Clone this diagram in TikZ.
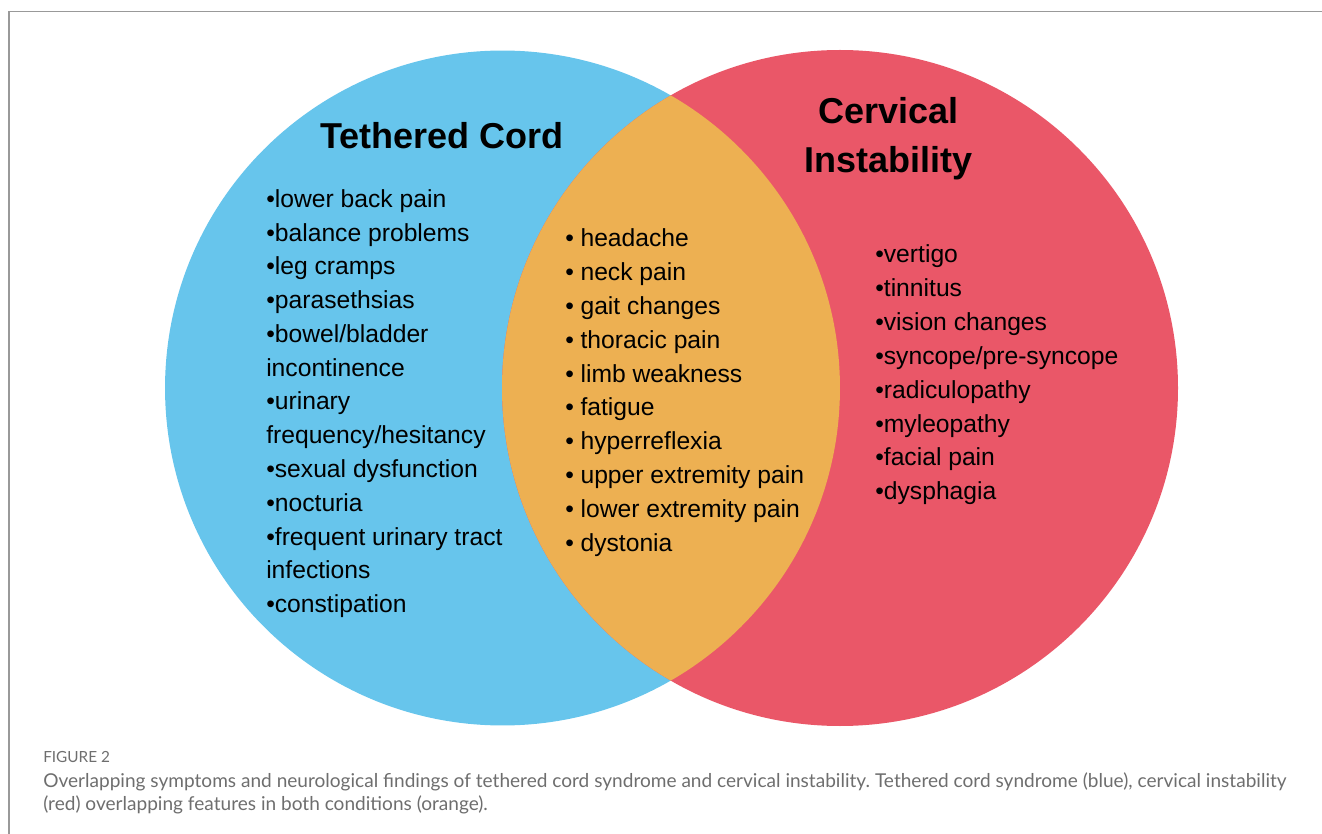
\documentclass[tikz,border=0pt]{standalone}
\usepackage{fontspec}
\setmainfont{Liberation Sans}
\newfontfamily\capfont{Lato}
\usetikzlibrary{positioning}
\definecolor{tcblue}{HTML}{67C5EC}
\definecolor{cired}{HTML}{EA5768}
\definecolor{bothorange}{HTML}{EDB052}
\definecolor{capgray}{HTML}{6E6E6E}
\tikzset{
  head/.style={font=\fontsize{27}{36}\selectfont\bfseries, inner sep=0pt, anchor=base},
  item/.style={font=\fontsize{18.5}{25}\selectfont, inner sep=0pt, anchor=base west},
  captext/.style={font=\capfont\fontsize{14.3}{17}\selectfont, text=capgray, inner sep=0pt, anchor=base west}
}
\frenchspacing

\begin{document}
\begin{tikzpicture}[x=0.75pt,y=-0.75pt]
\useasboundingbox (0,0) rectangle (1322,834);
% frame
\draw[black!40, line width=1pt] (9,834) -- (9,11.5) -- (1322,11.5);
% circles
\fill[tcblue] (502.5,388) circle (253.1pt);
\fill[cired] (840,388) circle (253.5pt);
\begin{scope}
  \clip (502.5,388) circle (253.1pt);
  \fill[bothorange] (840,388) circle (253.5pt);
\end{scope}
% titles
\node[head] (tcTitle) at (441.7,149) {Tethered Cord};
\node[head] (ciTitleA) at (888.5,124) {Cervical};
\node[head] (ciTitleB) at (888.5,173) {Instability};
% tethered cord only
\foreach \txt [count=\i from 0] in {•lower back pain, •balance problems, •leg cramps,
    •parasethsias, •bowel/bladder, incontinence, •urinary, frequency/hesitancy,
    •sexual dysfunction, •nocturia, •frequent urinary tract, infections, •constipation}
  \node[item] (tc\i) at (266,207.5+33.75*\i) {\txt};
% both
\foreach \txt [count=\i from 0] in {headache, neck pain, gait changes, thoracic pain,
    limb weakness, fatigue, hyperreflexia, upper extremity pain,
    lower extremity pain, dystonia}
  \node[item] (both\i) at (565,247+33.8*\i) {•\hspace{0.27em}\txt};
% cervical instability only
\foreach \txt [count=\i from 0] in {•vertigo, •tinnitus, •vision changes,
    •syncope/pre-syncope, •radiculopathy, •myleopathy, •facial pain, •dysphagia}
  \node[item] (ci\i) at (875,263+33.8*\i) {\txt};
% caption
\node[captext, font=\capfont\fontsize{11.5}{13}\selectfont] (figLabel) at (43,762) {FIGURE 2};
\node[captext] (capA) at (43,787) {Overlapping symptoms and neurological findings of tethered cord syndrome and cervical instability. Tethered cord syndrome (blue), cervical instability};
\node[captext] (capB) at (43,810) {(red) overlapping features in both conditions (orange).};
\end{tikzpicture}
\end{document}
